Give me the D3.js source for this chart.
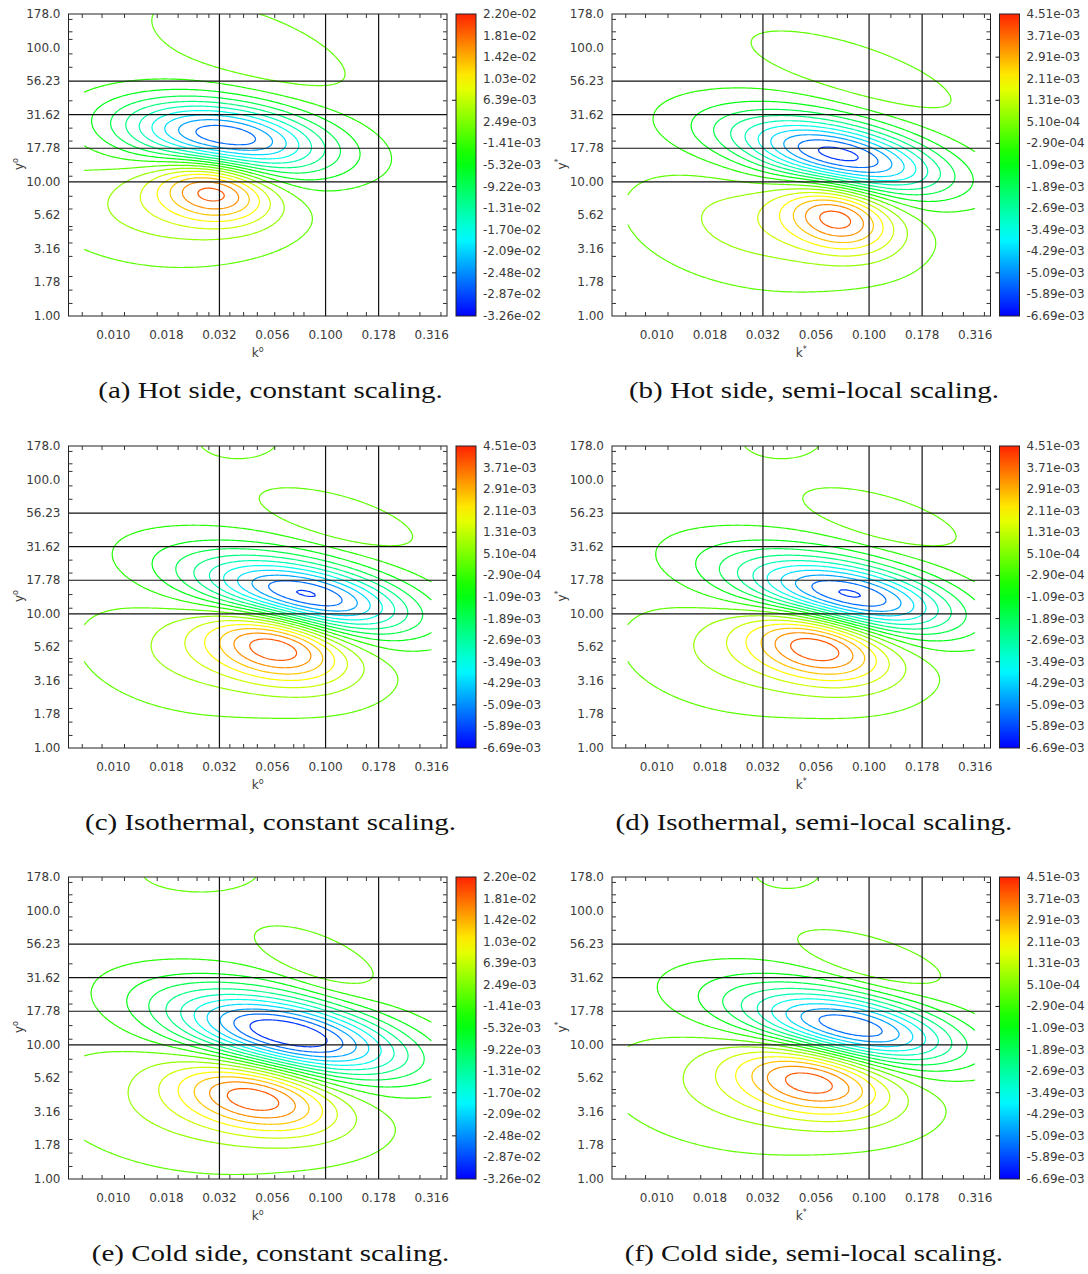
<!DOCTYPE html>
<html>
<head>
<meta charset="utf-8">
<script src="https://cdn.jsdelivr.net/npm/d3@7"></script>
<style>
  html, body { margin: 0; padding: 0; background: #fff; }
  svg { display: block; }
</style>
</head>
<body>
<svg id="fig" width="1088" height="1274"></svg>
<script>
// ---------- axes ----------
const kTickValues = [0.01, 0.01778, 0.03162, 0.05623, 0.1, 0.1778, 0.3162];
const kTickLabels = ["0.010", "0.018", "0.032", "0.056", "0.100", "0.178", "0.316"];
const yTickValues = [1, 1.778, 3.162, 5.623, 10, 17.78, 31.62, 56.23, 100, 177.8];
const yTickLabels = ["1.00", "1.78", "3.16", "5.62", "10.00", "17.78", "31.62", "56.23", "100.0", "178.0"];
const kMinorTicks = [0.00714, 0.00885, 0.01129, 0.0161, 0.0202, 0.0248, 0.0282, 0.0354, 0.0411,
                     0.0477, 0.0576, 0.0708, 0.0791, 0.1267, 0.1557, 0.2217, 0.2783, 0.3495];
const yMinorTicks = [1.24, 1.56, 1.97, 2.78, 3.5, 4.37, 4.64, 6.27, 7.8, 11.0, 13.9, 20.1, 25.1,
                     40.1, 71.3, 89.7, 115, 131, 162];
const kGridLines = [0.03162, 0.1, 0.1778];
const yGridLines = [10, 17.78, 31.62, 56.23];
const kAxisDomain = [0.00615, 0.3733];
const yAxisDomain = [1, 177.83];
const kSampled = [0.0073, 0.315];          // wavenumber range covered by the spectra

// ---------- colour bars ----------
const cbarRangeConst = [-3.26e-2, 2.20e-2];
const cbarLabelsConst = ["2.20e-02", "1.81e-02", "1.42e-02", "1.03e-02", "6.39e-03", "2.49e-03", "-1.41e-03",
  "-5.32e-03", "-9.22e-03", "-1.31e-02", "-1.70e-02", "-2.09e-02", "-2.48e-02", "-2.87e-02", "-3.26e-02"];
const cbarRangeSemi = [-6.69e-3, 4.51e-3];
const cbarLabelsSemi = ["4.51e-03", "3.71e-03", "2.91e-03", "2.11e-03", "1.31e-03", "5.10e-04", "-2.90e-04",
  "-1.09e-03", "-1.89e-03", "-2.69e-03", "-3.49e-03", "-4.29e-03", "-5.09e-03", "-5.89e-03", "-6.69e-03"];

// ---------- spectra: lobes [k centre, y centre, spread in log10 k, spread in log10 y, correlation, amplitude] ----------
const lobesHotConst = [
  [0.0330, 21.5, 0.33, 0.19, -0.3, -2.65e-2],
  [0.0300, 8.90, 0.19, 0.17, -0.2, 1.95e-2],
  [0.0166, 6.16, 0.30, 0.22, -0.15, 0.50e-2],
  [0.0395, 20.5, 0.42, 0.22, -0.5, -0.35e-2],
  [0.0440, 95.9, 0.28, 0.22, -0.6, 0.30e-2]
];
const lobesHotSemi = [
  [0.0757, 15.3, 0.33, 0.19, -0.5, -5.90e-3],
  [0.0720, 5.46, 0.18, 0.18, -0.25, 3.80e-3],
  [0.0301, 4.76, 0.32, 0.25, -0.25, 1.10e-3],
  [0.0355, 24.3, 0.40, 0.22, -0.3, -0.90e-3],
  [0.0844, 62.4, 0.30, 0.20, -0.7, 0.60e-3]
];
const lobesIsoConst = [
  [0.0817, 13.3, 0.34, 0.19, -0.45, -6.05e-3],
  [0.0600, 5.85, 0.23, 0.20, -0.3, 4.25e-3],
  [0.0250, 5.00, 0.30, 0.24, -0.2, 0.90e-3],
  [0.0355, 23.1, 0.40, 0.22, -0.4, -0.90e-3],
  [0.1107, 49.9, 0.21, 0.134, -0.6, 0.80e-3],
  [0.0387, 197, 0.12, 0.09, 0.0, 0.50e-3]
];
const lobesIsoSemi = [
  [0.0817, 13.3, 0.34, 0.19, -0.45, -6.05e-3],
  [0.0588, 5.85, 0.23, 0.20, -0.3, 4.25e-3],
  [0.0250, 5.00, 0.30, 0.24, -0.2, 0.90e-3],
  [0.0355, 23.1, 0.40, 0.22, -0.4, -0.90e-3],
  [0.1107, 49.9, 0.21, 0.134, -0.6, 0.80e-3],
  [0.0387, 197, 0.12, 0.09, 0.0, 0.50e-3]
];
const lobesColdConst = [
  [0.0695, 11.6, 0.38, 0.21, -0.5, -3.14e-2],
  [0.0480, 4.08, 0.26, 0.19, -0.35, 1.93e-2],
  [0.0220, 3.27, 0.36, 0.26, -0.25, 0.40e-2],
  [0.0355, 21.6, 0.40, 0.22, -0.4, -0.40e-2],
  [0.0911, 39.3, 0.19, 0.17, -0.6, 0.35e-2],
  [0.0256, 194, 0.165, 0.09, 0.0, 0.30e-2]
];
const lobesColdSemi = [
  [0.0853, 13.1, 0.34, 0.186, -0.45, -5.60e-3],
  [0.0555, 5.46, 0.25, 0.194, -0.3, 3.90e-3],
  [0.0250, 4.60, 0.34, 0.25, -0.2, 0.90e-3],
  [0.0374, 21.6, 0.40, 0.22, -0.4, -1.00e-3],
  [0.1002, 39.3, 0.22, 0.15, -0.6, 0.80e-3],
  [0.0413, 194, 0.10, 0.08, 0.0, 0.50e-3]
];

const panels = [
  { caption: "(a) Hot side, constant scaling.",   col: 0, row: 0, lobes: lobesHotConst,  range: cbarRangeConst, labels: cbarLabelsConst, sup: "o" },
  { caption: "(b) Hot side, semi-local scaling.", col: 1, row: 0, lobes: lobesHotSemi,   range: cbarRangeSemi,  labels: cbarLabelsSemi,  sup: "*" },
  { caption: "(c) Isothermal, constant scaling.", col: 0, row: 1, lobes: lobesIsoConst,  range: cbarRangeSemi,  labels: cbarLabelsSemi,  sup: "o" },
  { caption: "(d) Isothermal, semi-local scaling.", col: 1, row: 1, lobes: lobesIsoSemi, range: cbarRangeSemi,  labels: cbarLabelsSemi,  sup: "*" },
  { caption: "(e) Cold side, constant scaling.",  col: 0, row: 2, lobes: lobesColdConst, range: cbarRangeConst, labels: cbarLabelsConst, sup: "o" },
  { caption: "(f) Cold side, semi-local scaling.", col: 1, row: 2, lobes: lobesColdSemi, range: cbarRangeSemi,  labels: cbarLabelsSemi,  sup: "*" }
];

// ---------- layout ----------
const colLeft = [68.5, 612];
const rowTop = [14, 446, 877];
const PW = 378.5, PH = 302;
const NX = 200, NY = 150;
const NDIV = 18;   // contour intervals between colour-bar limits

const svg = d3.select("#fig");
const defs = svg.append("defs");
const sansFont = "'DejaVu Sans', Verdana, sans-serif";

// rainbow map: blue (low) -> cyan -> green -> yellow -> red (high)
const colorAt = t => d3.hsl(240 - 232 * Math.max(0, Math.min(1, t)), 1, 0.5).formatHex();

const grad = defs.append("linearGradient").attr("id", "cbarGrad")
  .attr("x1", 0).attr("y1", 1).attr("x2", 0).attr("y2", 0);
d3.range(0, 1.0001, 0.05).forEach(t =>
  grad.append("stop").attr("offset", t).attr("stop-color", colorAt(t)));

function sampleField(lobes) {
  const u0 = Math.log10(kSampled[0]), u1 = Math.log10(kSampled[1]);
  const v0 = 0, v1 = Math.log10(yAxisDomain[1]);
  const du = (u1 - u0) / (NX - 1), dv = (v1 - v0) / (NY - 1);
  const L = lobes.map(([k0, y0, su, sv, rho, amp]) =>
    ({ uc: Math.log10(k0), vc: Math.log10(y0), su, sv, rho, amp }));
  const vals = new Float64Array(NX * NY);
  for (let j = 0; j < NY; j++) {
    const V = v0 + j * dv;
    for (let i = 0; i < NX; i++) {
      const U = u0 + i * du;
      let s = 0;
      for (const l of L) {
        const a = (U - l.uc) / l.su, b = (V - l.vc) / l.sv;
        const q = (a * a - 2 * l.rho * a * b + b * b) / (1 - l.rho * l.rho);
        s += l.amp * Math.exp(-0.5 * q);
      }
      vals[j * NX + i] = s;
    }
  }
  return { vals, u0, du, v0, dv };
}

panels.forEach((p, pi) => {
  const left = colLeft[p.col], top = rowTop[p.row];
  const right = left + PW, bottom = top + PH;
  const x = d3.scaleLog().domain(kAxisDomain).range([left, right]);
  const y = d3.scaleLog().domain(yAxisDomain).range([bottom, top]);
  const g = svg.append("g");

  const clipId = "clip" + pi;
  defs.append("clipPath").attr("id", clipId)
    .append("rect").attr("x", left).attr("y", top).attr("width", PW).attr("height", PH);

  // contour lines
  const [lo, hi] = p.range;
  const levels = d3.range(1, NDIV).map(i => lo + i * (hi - lo) / NDIV);
  const f = sampleField(p.lobes);
  const contours = d3.contours().size([NX, NY]).thresholds(levels)(f.vals);
  const gx = c => x(Math.pow(10, f.u0 + (c - 0.5) * f.du));
  const gy = c => y(Math.pow(10, f.v0 + (c - 0.5) * f.dv));
  const onEdge = pt => pt[0] === 0 || pt[0] === NX || pt[1] === 0 || pt[1] === NY;

  const cg = g.append("g").attr("clip-path", `url(#${clipId})`);
  contours.forEach(c => {
    let d = "";
    c.coordinates.forEach(poly => poly.forEach(ring => {
      let pen = false;
      for (let n = 1; n < ring.length; n++) {
        const a = ring[n - 1], b = ring[n];
        if (onEdge(a) || onEdge(b)) { pen = false; continue; }
        if (!pen) { d += `M${gx(a[0]).toFixed(2)},${gy(a[1]).toFixed(2)}`; pen = true; }
        d += `L${gx(b[0]).toFixed(2)},${gy(b[1]).toFixed(2)}`;
      }
    }));
    if (d) cg.append("path").attr("d", d).attr("fill", "none")
      .attr("stroke", colorAt((c.value - lo) / (hi - lo)))
      .attr("stroke-width", 1.2).attr("stroke-linejoin", "round");
  });

  // grid lines
  kGridLines.forEach(k => g.append("line").attr("x1", x(k)).attr("x2", x(k))
    .attr("y1", top).attr("y2", bottom).attr("stroke", "#111").attr("stroke-width", 1.2));
  yGridLines.forEach(v => g.append("line").attr("y1", y(v)).attr("y2", y(v))
    .attr("x1", left).attr("x2", right).attr("stroke", "#111").attr("stroke-width", 1.2));

  // frame and inner ticks
  g.append("rect").attr("x", left).attr("y", top).attr("width", PW).attr("height", PH)
    .attr("fill", "none").attr("stroke", "#222").attr("stroke-width", 1);
  const tk = g.append("g").attr("stroke", "#333").attr("stroke-width", 1);
  kMinorTicks.forEach(k => {
    tk.append("line").attr("x1", x(k)).attr("x2", x(k)).attr("y1", bottom).attr("y2", bottom - 4);
    tk.append("line").attr("x1", x(k)).attr("x2", x(k)).attr("y1", top).attr("y2", top + 4);
  });
  yMinorTicks.forEach(v => {
    tk.append("line").attr("y1", y(v)).attr("y2", y(v)).attr("x1", left).attr("x2", left + 4);
    tk.append("line").attr("y1", y(v)).attr("y2", y(v)).attr("x1", right).attr("x2", right - 4);
  });

  // tick labels
  const lab = g.append("g").attr("font-family", sansFont).attr("font-size", 12).attr("fill", "#3a3a3a");
  kTickValues.forEach((k, i) => lab.append("text").attr("x", x(k)).attr("y", bottom + 23)
    .attr("text-anchor", "middle").text(kTickLabels[i]));
  yTickValues.forEach((v, i) => lab.append("text").attr("x", left - 8).attr("y", y(v) + 4)
    .attr("text-anchor", "end").text(yTickLabels[i]));

  // axis titles
  const xt = lab.append("text").attr("x", (left + right) / 2).attr("y", bottom + 41)
    .attr("text-anchor", "middle").attr("font-size", 12);
  xt.append("tspan").text("k");
  xt.append("tspan").attr("dy", -5).attr("font-size", 8).text(p.sup);
  const yt = lab.append("text").attr("transform", `translate(${left - 46},${top + 150}) rotate(-90)`)
    .attr("text-anchor", "middle").attr("font-size", 12);
  yt.append("tspan").text("y");
  yt.append("tspan").attr("dy", -5).attr("font-size", 8).text(p.sup);

  // colour bar
  const cx = right + 9, cw = 20;
  const cScale = d3.scaleLinear().domain([0, p.labels.length - 1]).range([top, bottom]);
  g.append("rect").attr("x", cx).attr("y", top).attr("width", cw).attr("height", PH)
    .attr("fill", "url(#cbarGrad)").attr("stroke", "#222").attr("stroke-width", 1);
  p.labels.forEach((s, i) => {
    lab.append("text").attr("x", cx + cw + 7).attr("y", cScale(i) + 4).text(s);
    if (i % 2 === 0 && i > 0 && i < p.labels.length - 1)
      tk.append("line").attr("x1", cx - 4).attr("x2", cx + 3).attr("y1", cScale(i)).attr("y2", cScale(i))
        .attr("stroke", "#111");
  });

  // caption
  const cap = svg.append("text").attr("x", left + 202).attr("y", top + 384)
    .attr("text-anchor", "middle").attr("font-family", "'Liberation Serif', 'Times New Roman', serif")
    .attr("font-size", 23).attr("fill", "#111").text(p.caption);
  const natural = cap.node().getComputedTextLength();
  cap.attr("textLength", natural * 1.26).attr("lengthAdjust", "spacingAndGlyphs");
});
</script>
</body>
</html>
